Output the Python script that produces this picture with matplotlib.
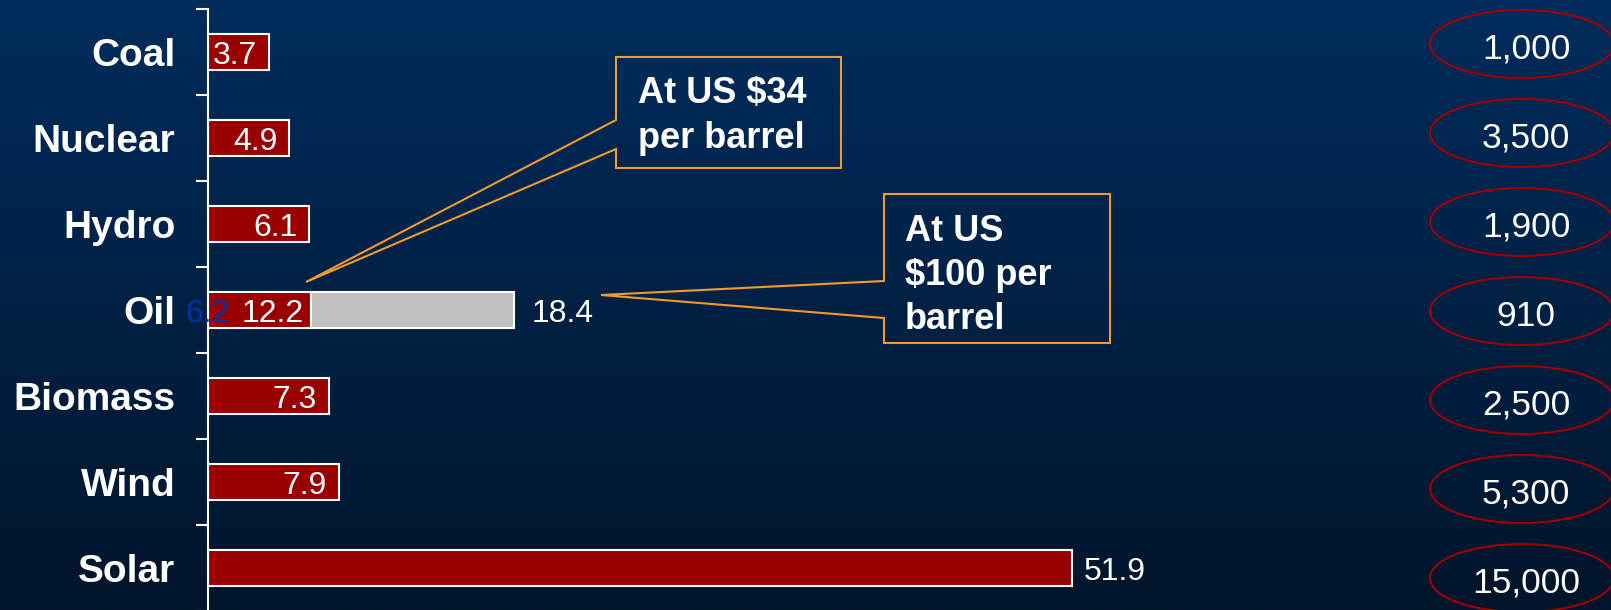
import numpy as np
import matplotlib.pyplot as plt
from matplotlib.patches import Ellipse, Polygon

# data
sources = ['Coal', 'Nuclear', 'Hydro', 'Oil', 'Biomass', 'Wind', 'Solar']
cost = [3.7, 4.9, 6.1, 6.2, 7.3, 7.9, 51.9]
cost_labels = ['3.7', '4.9', '6.1', '12.2', '7.3', '7.9', '51.9']
oil_low_label = '6.2'
oil_high = 18.4
capital = ['1,000', '3,500', '1,900', '910', '2,500', '5,300', '15,000']
callout_34 = ['At US $34', 'per barrel']
callout_100 = ['At US', '$100 per', 'barrel']

W, H = 1611, 610
plt.rcParams['font.family'] = ['Liberation Sans', 'DejaVu Sans']
fig = plt.figure(figsize=(W / 100, H / 100), dpi=100)

# background gradient
bg = fig.add_axes([0, 0, 1, 1], zorder=-10)
top = np.array([0, 44, 92]) / 255
bot = np.array([1, 21, 43]) / 255
t = np.linspace(0, 1, 256)[:, None]
grad = top + (bot - top) * t
bg.imshow(grad[:, None, :], aspect='auto', extent=[0, 1, 0, 1])
bg.axis('off')

# main bar axes
x0, xs = 207.5, 16.66  # pixel of zero, pixels per unit
ax = fig.add_axes([x0 / W, -1 / H, 1 - x0 / W, 602 / H])
ax.set_facecolor('none')
ax.set_xlim(0, (W - x0) / xs)
ax.set_ylim(6.5, -0.5)

y = np.arange(len(sources))
ax.barh(y, cost, height=0.42, color='#990000', edgecolor='white', linewidth=1.5)
ax.barh(3, oil_high - cost[3], left=cost[3], height=0.42,
        color='#C0C0C0', edgecolor='white', linewidth=1.5)

for i, (v, lab) in enumerate(zip(cost, cost_labels)):
    if v > 20:
        ax.annotate(lab, (v, i), xytext=(12, -4), textcoords='offset pixels',
                    ha='left', va='center', color='white', fontsize=23)
    else:
        off = -7 if i == 3 else -12
        ax.annotate(lab, (v, i), xytext=(off, -4), textcoords='offset pixels',
                    ha='right', va='center', color='white', fontsize=23)

ax.annotate(str(oil_high), (oil_high, 3), xytext=(18, -4), textcoords='offset pixels',
            ha='left', va='center', color='white', fontsize=23)
ax.annotate(oil_low_label, (0, 3), xytext=(0, -4), textcoords='offset pixels',
            ha='center', va='center', color='#0033A8', fontsize=23)

ax.set_yticks(np.arange(-0.5, 7, 1))
ax.set_yticklabels([])
ax.set_yticks(y, sources, minor=True)
ax.tick_params(axis='y', which='major', length=9, width=1.5, color='white', direction='out')
ax.tick_params(axis='y', which='minor', length=0, pad=23, labelsize=28, labelcolor='white')
for lab in ax.get_yticklabels(minor=True):
    lab.set_fontweight('bold')
ax.set_xticks([])
for s in ['top', 'right', 'bottom']:
    ax.spines[s].set_visible(False)
ax.spines['left'].set_color('white')
ax.spines['left'].set_linewidth(1.5)

# overlay for ellipses and callouts (pixel coordinates)
ov = fig.add_axes([0, 0, 1, 1], zorder=5)
ov.set_xlim(0, W)
ov.set_ylim(H, 0)
ov.axis('off')

for i, c in enumerate(capital):
    cy = 44 + 89 * i
    ov.add_patch(Ellipse((1522, cy), 184, 68, fill=False, edgecolor='#A00000', linewidth=1.5))
    ov.text(1526, cy + 5, c, ha='center', va='center', color='white', fontsize=25.5)

orange = '#F39A2C'
ov.add_patch(Polygon([(616, 120), (306, 282), (616, 149), (616, 168),
                      (841, 168), (841, 57), (616, 57)],
                     closed=True, fill=False, edgecolor=orange, linewidth=1.5))
for k, line in enumerate(callout_34):
    ov.text(638, 103 + 45 * k, line, ha='left', va='baseline', color='white',
            fontsize=26, fontweight='bold')

ov.add_patch(Polygon([(884, 281), (601, 295), (884, 318), (884, 343),
                      (1110, 343), (1110, 194), (884, 194)],
                     closed=True, fill=False, edgecolor=orange, linewidth=1.5))
for k, line in enumerate(callout_100):
    ov.text(905, 241 + 44 * k, line, ha='left', va='baseline', color='white',
            fontsize=26, fontweight='bold')

fig.savefig('out.png', dpi=100)
